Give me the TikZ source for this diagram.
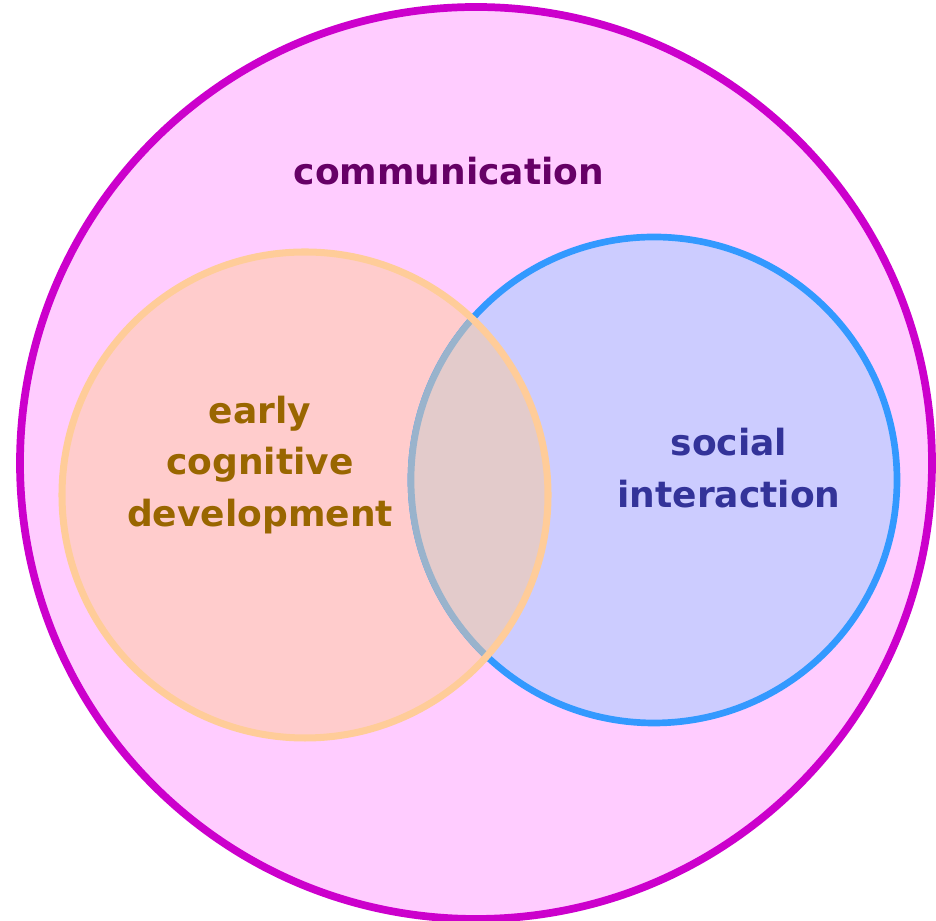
\documentclass[tikz,border=0pt]{standalone}
\usepackage{fontspec}
\setmainfont{DejaVu Sans}
\definecolor{commfill}{HTML}{FFCCFF}
\definecolor{commline}{HTML}{CC00CC}
\definecolor{commtext}{HTML}{660066}
\definecolor{cogfill}{HTML}{FFCCCC}
\definecolor{cogline}{HTML}{FFCC99}
\definecolor{cogtext}{HTML}{996600}
\definecolor{socfill}{HTML}{CCCCFF}
\definecolor{socline}{HTML}{3399FF}
\definecolor{soctext}{HTML}{333399}
\definecolor{bothfill}{HTML}{E3CBCB}
\definecolor{bothline}{HTML}{99B3CC}
\tikzset{
  label text/.style={align=center,font=\bfseries\fontsize{20.5}{29.5}\selectfont}
}
\begin{document}
\begin{tikzpicture}
  \useasboundingbox (0,0) rectangle (18.72,18.42);
  \coordinate (comm) at (9.52,9.16);
  \coordinate (cog) at (6.10,8.52);
  \coordinate (soc) at (13.08,8.82);
  \draw[commline,fill=commfill,line width=4.4pt] (comm) circle (9.12);
  \fill[cogfill] (cog) circle (4.86);
  \draw[socline,fill=socfill,line width=3.8pt] (soc) circle (4.86);
  \begin{scope}
    \clip (cog) circle (4.86);
    \draw[bothline,fill=bothfill,line width=3.8pt] (soc) circle (4.86);
  \end{scope}
  \draw[cogline,line width=4pt] (cog) circle (4.86);
  \node[label text,commtext] (commlabel) at (8.98,15.0) {communication};
  \node[label text,cogtext] (coglabel) at (5.2,9.12) {early\\cognitive\\development};
  \node[label text,soctext] (soclabel) at (14.58,9.06) {social\\interaction};
\end{tikzpicture}
\end{document}
